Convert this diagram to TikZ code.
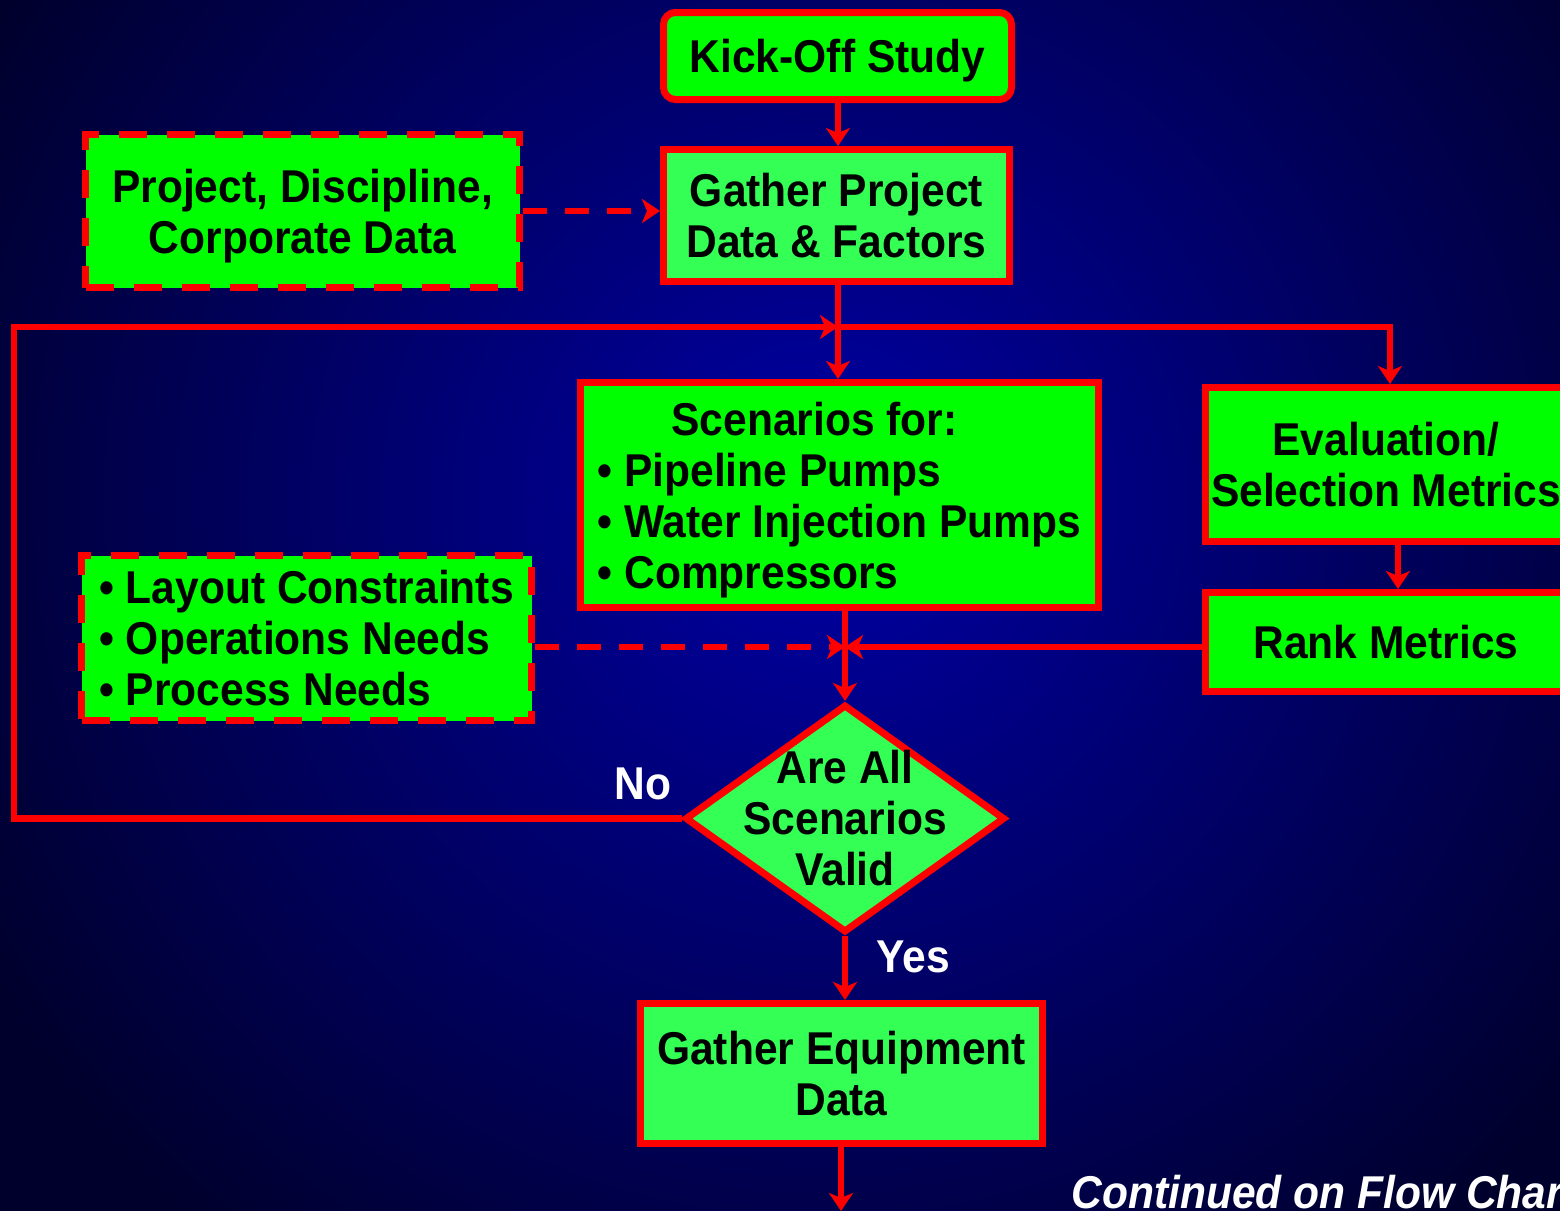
\documentclass[tikz,border=0pt]{standalone}
\usepackage{fontspec}
\setmainfont[FakeStretch=0.925]{Liberation Sans}
\usetikzlibrary{arrows.meta,shapes.geometric}
\definecolor{bgin}{RGB}{0,0,165}
\definecolor{bgout}{RGB}{0,0,45}
\definecolor{gA}{RGB}{0,255,0}
\definecolor{gB}{RGB}{51,255,85}
\definecolor{rd}{RGB}{255,0,0}
\begin{document}
\begin{tikzpicture}[x=0.5pt,y=-0.5pt,
  box/.style={draw=rd, line width=3.5pt, inner sep=0pt, text=black, align=center, text depth=0pt,
    font=\bfseries\fontsize{23}{25.5}\selectfont},
  dbox/.style={box, dash pattern=on 14pt off 10pt},
  conn/.style={draw=rd, line width=3.3pt, line join=miter,
    -{Stealth[length=9pt,width=12pt,inset=2.5pt]}},
  dconn/.style={conn, dash pattern=on 12pt off 9pt},
  lbl/.style={text=white, inner sep=0pt, font=\bfseries\fontsize{23}{25.5}\selectfont}]
\useasboundingbox (0,0) rectangle (1560,1211);
\begin{scope}
\clip (0,0) rectangle (1560,1211);
\fill[bgout] (0,0) rectangle (1560,1211);
\shade[inner color=bgin, outer color=bgout] (820,500) circle[radius=950];

% nodes
\node[box, fill=gA, rounded corners=6pt, minimum width=174pt, minimum height=43.5pt] (kick) at (837.5,56) {Kick-Off Study};
\node[box, fill=gB, minimum width=173pt, minimum height=66pt] (gp) at (836.5,215.5) {Gather Project\\Data \& Factors};
\node[dbox, fill=gA, minimum width=217pt, minimum height=76.5pt] (pdc) at (302.5,211) {Project, Discipline,\\Corporate Data};
\node[box, fill=gA, minimum width=259pt, minimum height=112.5pt, align=left] (scen) at (839.5,495)
  {\hspace*{37pt}Scenarios for:\\• Pipeline Pumps\\• Water Injection Pumps\\• Compressors};
\node[box, fill=gA, minimum width=180.5pt, minimum height=77pt] (ev) at (1386,464.5) {Evaluation/\\Selection Metrics};
\node[box, fill=gA, minimum width=180.5pt, minimum height=49.5pt] (rank) at (1386,642) {Rank Metrics};
\node[dbox, fill=gA, minimum width=225pt, minimum height=82.5pt, align=left] (lay) at (306.5,638)
  {• Layout Constraints\\• Operations Needs\\• Process Needs};
\node[box, diamond, fill=gB, minimum width=160pt, minimum height=114pt,
  label={[text=black, align=center, font=\bfseries\fontsize{23}{25.5}\selectfont]center:Are All\\Scenarios\\Valid}] (d) at (845,818.5) {};
\node[box, fill=gB, minimum width=201pt, minimum height=70pt] (ge) at (841.5,1073.5) {Gather Equipment\\Data};

% coordinates
\coordinate (j1) at (838,327);
\coordinate (j2) at (845,647);
\coordinate (lc) at (14,327);
\coordinate (e1) at (1398,0);
\coordinate (bot) at (841,1211);

% connectors
\draw[conn] (kick.south -| j1) -- (gp.north -| j1);
\draw[dconn] (pdc.east) -- (gp.west |- pdc.east);
\draw[conn] (j1 |- gp.south) -- (j1 |- scen.north);
\draw[conn] (d.west) -| (lc) -- (j1);
\draw[conn] (j1) -| ([xshift=2pt]ev.north);
\draw[conn] (e1 |- ev.south) -- (e1 |- rank.north);
\draw[conn] (rank.west |- j2) -- (j2);
\draw[dconn] (lay.east |- j2) -- (j2);
\draw[conn] (j2 |- scen.south) -- (d.north);
\draw[conn] (d.south) -- (ge.north -| d.south);
\draw[conn] (ge.south -| bot) -- (bot);

% labels
\node[lbl] (no) at (643,784) {No};
\node[lbl] (yes) at (913,957) {Yes};
\node[lbl, anchor=base west, font=\bfseries\itshape\fontsize{23}{25.5}\selectfont] (cont) at (1071,1208) {Continued on Flow Chart};
\end{scope}
\end{tikzpicture}
\end{document}
